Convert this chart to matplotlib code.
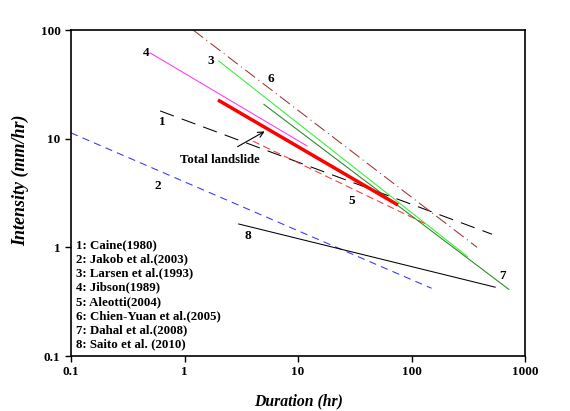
import matplotlib.pyplot as plt

# Rainfall intensity-duration thresholds (endpoints)
names = ['1: Caine(1980)', '2: Jakob et al.(2003)', '3: Larsen et al.(1993)',
         '4: Jibson(1989)', '5: Aleotti(2004)', '6: Chien-Yuan et al.(2005)',
         '7: Dahal et al.(2008)', '8: Saito et al. (2010)']
dur_start = [0.61, 0.1, 2.0, 0.5, 4.0, 1.19, 5.0, 3.0]
dur_end = [512, 150, 312, 12, 142, 378, 720, 545]
int_start = [18.0, 11.3, 51.9, 61.4, 9.5, 100, 20.7, 1.64]
int_end = [1.32, 0.42, 0.82, 8.57, 1.59, 1.0, 0.41, 0.43]

total_dur = [1.97, 76]
total_int = [22.7, 2.45]

# label positions for the numbers
num_x = [0.634, 0.585, 1.71, 0.458, 29.9, 5.78, 627, 3.62]
num_y = [14.3, 3.67, 51.9, 61.4, 2.67, 35.4, 0.546, 1.27]

colors = ['black', '#3333ff', '#33ee33', '#ff33ff', '#ff3333', '#993333', '#228822', 'black']
styles = [(0, (14, 8)), (0, (7, 5)), '-', '-', (0, (7, 4)),
          (0, (12, 4, 1, 4)), '-', '-']

plt.rcParams['font.family'] = ['Liberation Serif', 'DejaVu Serif']
fig = plt.figure(figsize=(5.7, 4.11), dpi=100)
ax = fig.add_axes([0.1246, 0.1338, 0.7966, 0.7932])

for i in range(len(names)):
    ax.plot([dur_start[i], dur_end[i]], [int_start[i], int_end[i]],
            color=colors[i], linestyle=styles[i], lw=0.75)
    ax.text(num_x[i], num_y[i], str(i + 1), fontsize=9.5, fontweight='bold',
            ha='center', va='center')

ax.plot(total_dur, total_int, color='red', lw=2.5, solid_capstyle='butt')
ax.annotate('', xy=(5.33, 12.0), xytext=(2.79, 8.2),
            arrowprops=dict(arrowstyle='->', color='black', lw=0.8))
ax.text(2.06, 6.37, 'Total landslide', fontsize=9.2, fontweight='bold',
        ha='center', va='center')

ax.text(0.011, 0.358, '\n'.join(names), transform=ax.transAxes, fontsize=9.3,
        fontweight='bold', ha='left', va='top', linespacing=1.24)

ax.set_xscale('log')
ax.set_yscale('log')
ax.set_xlim(0.1, 1000)
ax.set_ylim(0.1, 100)
ax.set_xticks([0.1, 1, 10, 100, 1000])
ax.set_xticklabels(['0.1', '1', '10', '100', '1000'])
ax.set_yticks([0.1, 1, 10, 100])
ax.set_yticklabels(['0.1', '1', '10', '100'])
ax.minorticks_off()
ax.tick_params(direction='out', length=4, width=1, labelsize=9.5)
for lab in ax.get_xticklabels() + ax.get_yticklabels():
    lab.set_fontweight('bold')
for sp in ax.spines.values():
    sp.set_linewidth(1.2)

ax.set_xlabel('Duration (hr)', fontsize=11.3, fontweight='bold', style='italic', labelpad=11)
ax.set_ylabel('Intensity (mm/hr)', fontsize=13, fontweight='bold', style='italic', labelpad=10)
ax.yaxis.set_label_coords(-0.093, 0.54)

plt.savefig('out.png', dpi=100)
